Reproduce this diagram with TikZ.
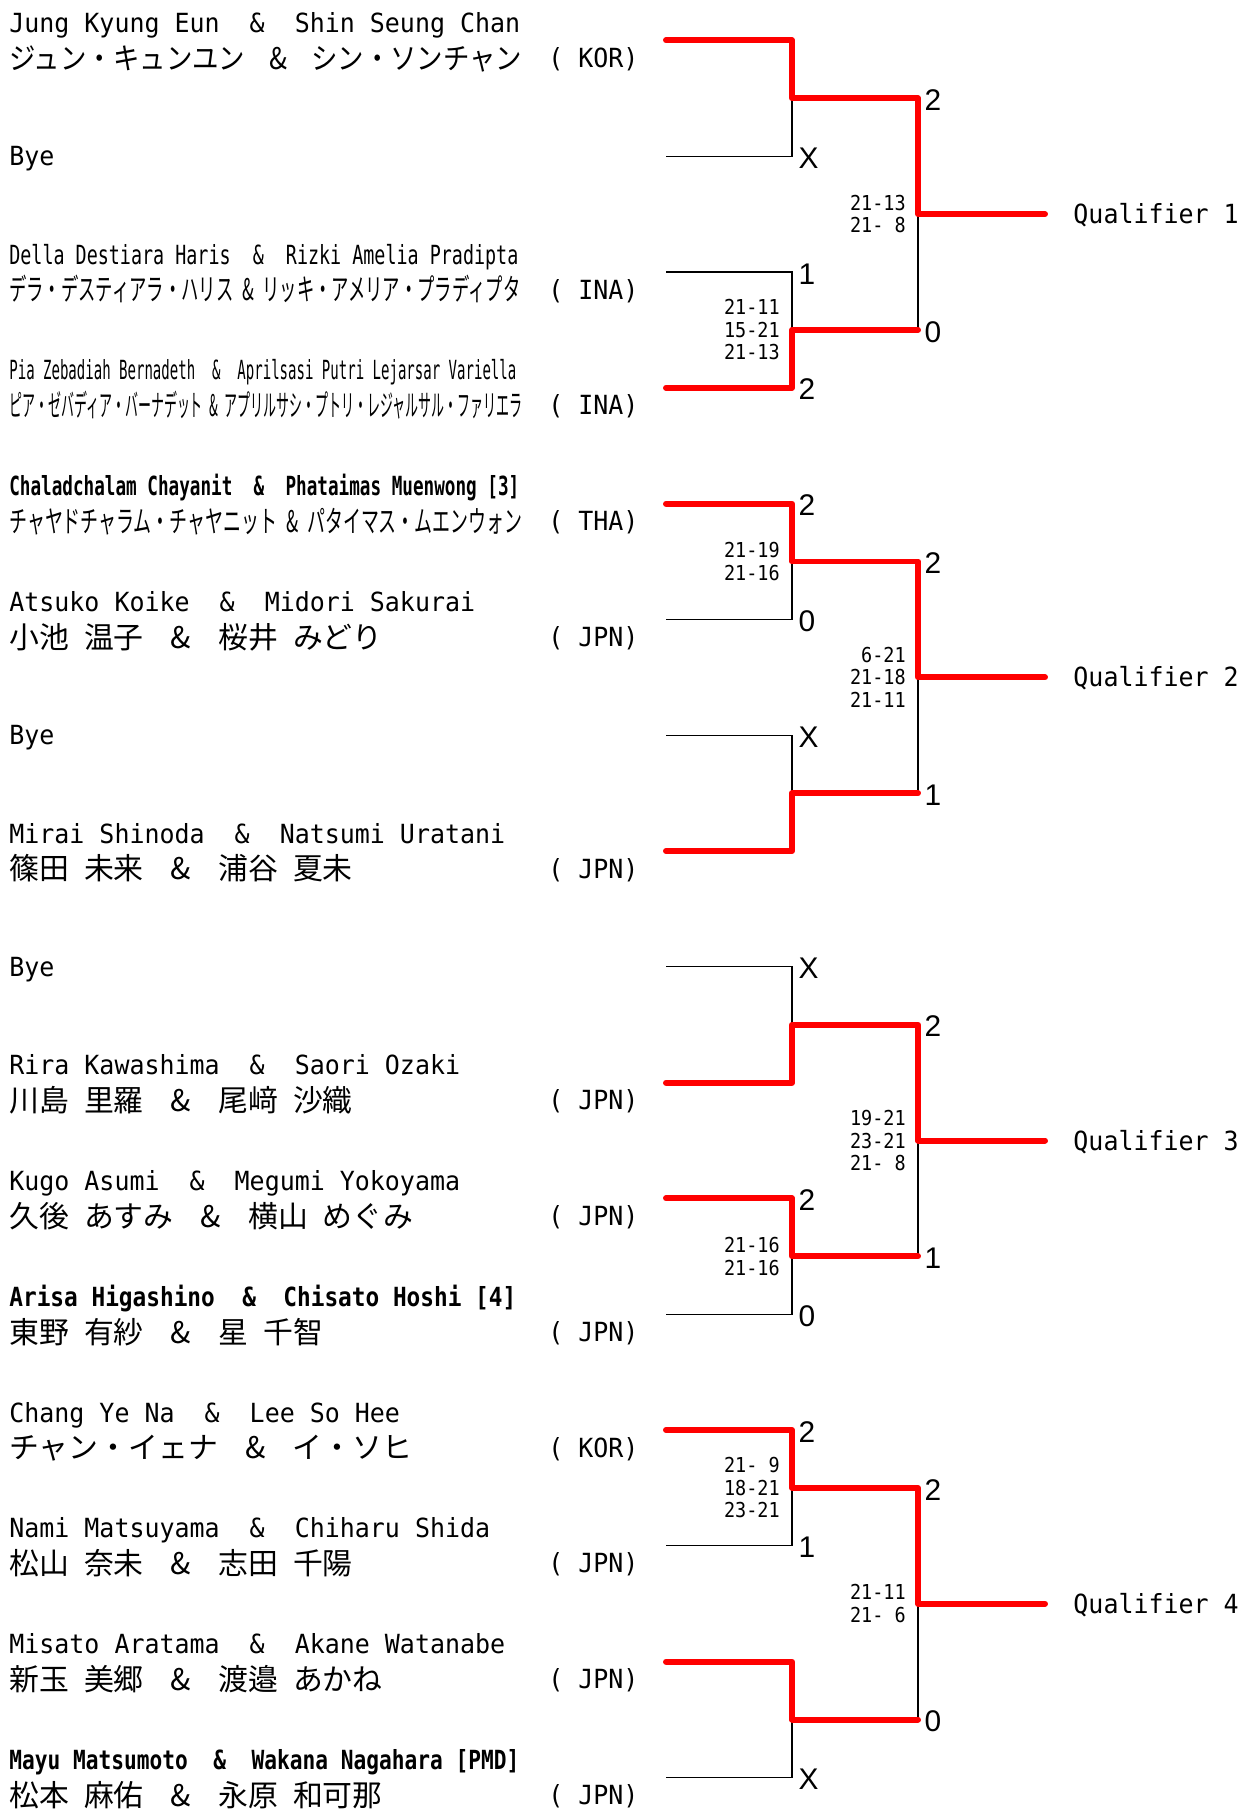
\documentclass[tikz,border=0pt]{standalone}
\usepackage{fontspec}
\usepackage{graphicx}
\setmainfont{DejaVu Sans Mono}[FakeStretch=0.947]
\newfontfamily\jpfont{Noto Sans CJK JP}
\newfontfamily\scorefont[FakeStretch=0.9]{DejaVu Sans Mono}
\newfontfamily\resfont{Liberation Sans}
\newlength\pxu
\setlength\pxu{0.02cm}
\newcommand\fitto[2]{\resizebox{#1\pxu}{\height}{#2}}
\newcommand\andsep{\ \ \&\ \ }
\newcommand\jamp{\makebox[2.5em]{\&}}
\newcommand\jsp{\hspace{0.5em}}

\begin{document}
\begin{tikzpicture}[x=0.02cm,y=-0.02cm,
  en/.style={anchor=west,inner sep=0pt,font=\fontsize{15pt}{17pt}\selectfont,text height=10.9pt,text depth=0pt},
  jp/.style={anchor=west,inner sep=0pt,font=\jpfont\fontsize{17pt}{19pt}\selectfont,text height=12.9pt,text depth=0pt},
  sc/.style={anchor=east,inner sep=0pt,xshift=-6.8pt,align=right,font=\scorefont\fontsize{11.7pt}{12.8pt}\selectfont},
  res/.style={anchor=west,inner sep=0pt,xshift=3.5pt,yshift=-0.8pt,font=\resfont\fontsize{17pt}{19pt}\selectfont,text height=12.2pt,text depth=0pt},
  qual/.style={en,xshift=16pt},
  win/.style={red,line width=3.4pt,line cap=round,line join=round},
  bk/.style={black,line width=0.6pt}]
\useasboundingbox (0,0) rectangle (1250,1809);

% slots, first and second round joins
\foreach \i in {0,...,15} {
  \pgfmathsetmacro{\ry}{40.4+115.8*\i}
  \coordinate (R\i) at (666,\ry);
}
\foreach \i in {1,...,8} {
  \pgfmathsetmacro{\my}{40.4+115.8*(2*\i-1.5)}
  \coordinate (A\i) at (792,\my);
}
\foreach \i in {1,...,4} {
  \pgfmathsetmacro{\qy}{40.4+115.8*(4*\i-2.5)}
  \coordinate (B\i) at (918,\qy);
  \coordinate (Q\i) at (1045,\qy);
  \node[qual] (QL\i) at (Q\i) {Qualifier \i};
}

% bracket
\foreach \i in {1,...,8} {
  \pgfmathtruncatemacro{\ra}{2*\i-2}
  \pgfmathtruncatemacro{\rb}{2*\i-1}
  \draw[bk] (R\ra) -| (A\i) |- (R\rb);
}
\foreach \i in {1,...,4} {
  \pgfmathtruncatemacro{\ma}{2*\i-1}
  \pgfmathtruncatemacro{\mb}{2*\i}
  \draw[bk] (A\ma) -| (B\i) |- (A\mb);
  \draw[bk] (B\i) -- (Q\i);
}

% winners
\draw[win] (R0) -| (A1) -| (B1) -- (Q1);
\draw[win] (R3) -| (A2) -- (A2 -| B1);
\draw[win] (R4) -| (A3) -| (B2) -- (Q2);
\draw[win] (R7) -| (A4) -- (A4 -| B2);
\draw[win] (R9) -| (A5) -| (B3) -- (Q3);
\draw[win] (R10) -| (A6) -- (A6 -| B3);
\draw[win] (R12) -| (A7) -| (B4) -- (Q4);
\draw[win] (R14) -| (A8) -- (A8 -| B4);

% games won
\foreach \r/\v in {1/X,2/1,3/2,4/2,5/0,6/X,8/X,10/2,11/0,12/2,13/1,15/X}
  \node[res] (W\r) at (R\r -| A1) {\v};
\foreach \m/\v in {1/2,2/0,3/2,4/1,5/2,6/1,7/2,8/0}
  \node[res] (V\m) at (A\m -| B1) {\v};

% scores
\node[sc] (S2) at (A2) {21-11\\15-21\\21-13};
\node[sc] (S3) at (A3) {21-19\\21-16};
\node[sc] (S6) at (A6) {21-16\\21-16};
\node[sc] (S7) at (A7) {21- 9\\18-21\\23-21};
\node[sc] (T1) at (B1) {21-13\\21- 8};
\node[sc] (T2) at (B2) {6-21\\21-18\\21-11};
\node[sc] (T3) at (B3) {19-21\\23-21\\21- 8};
\node[sc] (T4) at (B4) {21-11\\21- 6};

% players
\node[en] (N0) at (9,22.9) {Jung Kyung Eun\andsep Shin Seung Chan};
\node[jp] (J0) at (9,57.9) {\fitto{513}{ジュン・キュンユン\jamp シン・ソンチャン}};
\node[en] (C0) at (548,57.9) {( KOR)};
\node[en] (N1) at (9,156.2) {Bye};
\node[en] (N2) at (9,254.5) {\fitto{509}{Della Destiara Haris\andsep Rizki Amelia Pradipta}};
\node[jp] (J2) at (9,289.5) {\fitto{511}{デラ・デスティアラ・ハリス\jsp\&\jsp リッキ・アメリア・プラディプタ}};
\node[en] (C2) at (548,289.5) {( INA)};
\node[en] (N3) at (9,370.3) {\fitto{507}{Pia Zebadiah Bernadeth\andsep Aprilsasi Putri Lejarsar Variella}};
\node[jp] (J3) at (9,405.3) {\fitto{513}{ピア・ゼバディア・バーナデット\jsp\&\jsp アプリルサシ・プトリ・レジャルサル・ファリエラ}};
\node[en] (C3) at (548,405.3) {( INA)};
\node[en] (N4) at (9,486.1) {\fitto{510}{\bfseries Chaladchalam Chayanit\andsep Phataimas Muenwong [3]}};
\node[jp] (J4) at (9,521.1) {\fitto{513}{チャヤドチャラム・チャヤニット\jsp\&\jsp パタイマス・ムエンウォン}};
\node[en] (C4) at (548,521.1) {( THA)};
\node[en] (N5) at (9,601.9) {Atsuko Koike\andsep Midori Sakurai};
\node[jp] (J5) at (9,636.9) {小池\jsp 温子\jamp 桜井\jsp みどり};
\node[en] (C5) at (548,636.9) {( JPN)};
\node[en] (N6) at (9,735.2) {Bye};
\node[en] (N7) at (9,833.5) {Mirai Shinoda\andsep Natsumi Uratani};
\node[jp] (J7) at (9,868.5) {篠田\jsp 未来\jamp 浦谷\jsp 夏未};
\node[en] (C7) at (548,868.5) {( JPN)};
\node[en] (N8) at (9,966.8) {Bye};
\node[en] (N9) at (9,1065.1) {Rira Kawashima\andsep Saori Ozaki};
\node[jp] (J9) at (9,1100.1) {川島\jsp 里羅\jamp 尾﨑\jsp 沙織};
\node[en] (C9) at (548,1100.1) {( JPN)};
\node[en] (N10) at (9,1180.9) {Kugo Asumi\andsep Megumi Yokoyama};
\node[jp] (J10) at (9,1215.9) {久後\jsp あすみ\jamp 横山\jsp めぐみ};
\node[en] (C10) at (548,1215.9) {( JPN)};
\node[en] (N11) at (9,1296.7) {\fitto{507}{\bfseries Arisa Higashino\andsep Chisato Hoshi [4]}};
\node[jp] (J11) at (9,1331.7) {東野\jsp 有紗\jamp 星\jsp 千智};
\node[en] (C11) at (548,1331.7) {( JPN)};
\node[en] (N12) at (9,1412.5) {Chang Ye Na\andsep Lee So Hee};
\node[jp] (J12) at (9,1447.5) {チャン・イェナ\jamp イ・ソヒ};
\node[en] (C12) at (548,1447.5) {( KOR)};
\node[en] (N13) at (9,1528.3) {Nami Matsuyama\andsep Chiharu Shida};
\node[jp] (J13) at (9,1563.3) {松山\jsp 奈未\jamp 志田\jsp 千陽};
\node[en] (C13) at (548,1563.3) {( JPN)};
\node[en] (N14) at (9,1644.1) {Misato Aratama\andsep Akane Watanabe};
\node[jp] (J14) at (9,1679.1) {新玉\jsp 美郷\jamp 渡邉\jsp あかね};
\node[en] (C14) at (548,1679.1) {( JPN)};
\node[en] (N15) at (9,1759.9) {\fitto{510}{\bfseries Mayu Matsumoto\andsep Wakana Nagahara [PMD]}};
\node[jp] (J15) at (9,1794.9) {松本\jsp 麻佑\jamp 永原\jsp 和可那};
\node[en] (C15) at (548,1794.9) {( JPN)};
\end{tikzpicture}
\end{document}
